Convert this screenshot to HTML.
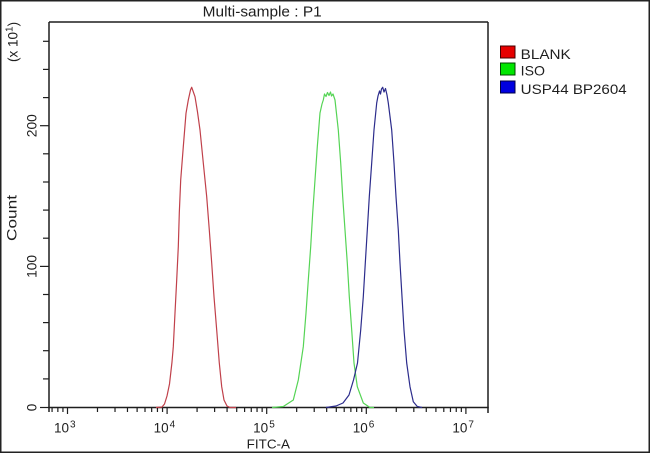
<!DOCTYPE html>
<html><head><meta charset="utf-8"><style>
html,body{margin:0;padding:0;background:#fff;}
svg{display:block;}
text{font-family:"Liberation Sans",Arial,sans-serif;fill:#1e1e1e;}
</style></head><body>
<svg width="650" height="453" viewBox="0 0 650 453" xmlns="http://www.w3.org/2000/svg">
<rect x="0" y="0" width="650" height="453" fill="#fff"/>
<rect x="0.75" y="0.75" width="648.5" height="451.5" fill="none" stroke="#222" stroke-width="1.5"/>
<!-- title -->
<text x="202.7" y="16.5" font-size="14.5" textLength="119" lengthAdjust="spacingAndGlyphs">Multi-sample : P1</text>
<!-- plot frame -->
<g stroke="#1e1e1e" stroke-width="1.5" fill="none">
<line x1="49" y1="22" x2="488" y2="22"/>
<line x1="49" y1="22" x2="49" y2="412"/>
<line x1="488" y1="22" x2="488" y2="413"/>
<line x1="48.25" y1="407.5" x2="488.75" y2="407.5"/>
</g>
<!-- y ticks -->
<g stroke="#1e1e1e" stroke-width="1.2">
<line x1="40" y1="407.5" x2="49" y2="407.5"/>
<line x1="43" y1="378.9" x2="49" y2="378.9"/>
<line x1="43" y1="350.7" x2="49" y2="350.7"/>
<line x1="43" y1="322.6" x2="49" y2="322.6"/>
<line x1="43" y1="294.5" x2="49" y2="294.5"/>
<line x1="40" y1="266.4" x2="49" y2="266.4"/>
<line x1="43" y1="238.2" x2="49" y2="238.2"/>
<line x1="43" y1="210.1" x2="49" y2="210.1"/>
<line x1="43" y1="182" x2="49" y2="182"/>
<line x1="43" y1="153.8" x2="49" y2="153.8"/>
<line x1="40" y1="125.7" x2="49" y2="125.7"/>
<line x1="43" y1="97.6" x2="49" y2="97.6"/>
<line x1="43" y1="69.4" x2="49" y2="69.4"/>
<line x1="43" y1="41.3" x2="49" y2="41.3"/>
</g>
<!-- y labels -->
<text transform="translate(36.5,407.5) rotate(-90)" font-size="13.5" text-anchor="middle">0</text>
<text transform="translate(36.5,266.4) rotate(-90)" font-size="13.5" text-anchor="middle" textLength="23" lengthAdjust="spacingAndGlyphs">100</text>
<text transform="translate(36.5,125.7) rotate(-90)" font-size="13.5" text-anchor="middle" textLength="23" lengthAdjust="spacingAndGlyphs">200</text>
<text transform="translate(16.7,218) rotate(-90)" font-size="14" text-anchor="middle" textLength="46" lengthAdjust="spacingAndGlyphs">Count</text>
<text transform="translate(17.5,62) rotate(-90)" font-size="13.5">(x 10<tspan font-size="10" dy="-5">1</tspan><tspan dy="5">)</tspan></text>
<!-- x ticks -->
<g stroke="#1e1e1e" stroke-width="1.2">
<line x1="67.5" y1="407" x2="67.5" y2="414"/>
<line x1="167.1" y1="407" x2="167.1" y2="414"/>
<line x1="266.7" y1="407" x2="266.7" y2="414"/>
<line x1="366.3" y1="407" x2="366.3" y2="414"/>
<line x1="465.9" y1="407" x2="465.9" y2="414"/>
<path d="M52.07 407V412M57.85 407V412M62.94 407V412
M97.48 407V412M115.02 407V412M127.47 407V412M137.12 407V412M145 407V412M151.67 407V412M157.45 407V412M162.54 407V412
M197.08 407V412M214.62 407V412M227.07 407V412M236.72 407V412M244.6 407V412M251.27 407V412M257.05 407V412M262.14 407V412
M296.68 407V412M314.22 407V412M326.67 407V412M336.32 407V412M344.2 407V412M350.87 407V412M356.65 407V412M361.74 407V412
M396.28 407V412M413.82 407V412M426.27 407V412M435.92 407V412M443.8 407V412M450.47 407V412M456.25 407V412M461.34 407V412" fill="none"/>
</g>
<!-- x labels -->
<g font-size="13.5">
<text x="69" y="432.5" text-anchor="end">10</text><text x="70" y="427.5" font-size="10">3</text>
<text x="168.6" y="432.5" text-anchor="end">10</text><text x="169.6" y="427.5" font-size="10">4</text>
<text x="268.2" y="432.5" text-anchor="end">10</text><text x="269.2" y="427.5" font-size="10">5</text>
<text x="367.8" y="432.5" text-anchor="end">10</text><text x="368.8" y="427.5" font-size="10">6</text>
<text x="467.4" y="432.5" text-anchor="end">10</text><text x="468.4" y="427.5" font-size="10">7</text>
</g>
<text x="246.7" y="448.3" font-size="13" textLength="43.3" lengthAdjust="spacingAndGlyphs">FITC-A</text>
<!-- curves -->
<g fill="none" stroke-width="1.2" stroke-linejoin="round">
<polyline stroke="#c0404a" points="156,407.5 162,407 164.5,404 167,396 169.5,384 172,362 173.3,346.7 175,313 176.7,280 178.3,246.7 179.3,213 180.7,180 183.3,146.7 186,113.3 188.3,100 190.5,90 191.7,87.3 193,91 195,96.7 197.5,112 200,130 203.3,163 206.7,196.7 209.3,230 211.7,263 214,296.7 216.7,330 219.3,363 221.7,386.7 224,400 227,406 230,407.5 236,407.5"/>
<polyline stroke="#55d455" points="272,407.5 283.3,406.5 293.3,400 298.3,380 303.3,346.7 306,313 308.3,280 310.7,246.7 312.7,213 315,180 317.3,146.7 320,113 322,104 323.3,100 324.5,94 326,96.5 327.5,92.5 329,95.5 330.5,92 331.5,96 333,94 335,100 338.3,130 340.7,163 342.7,196.7 345,230 347.3,263 349.3,296.7 351.7,330 354,363 357.3,386.7 363.3,403 370,407.5 374,407.5"/>
<polyline stroke="#2c2c8c" points="326,407.5 336,406 343,403 349,395 353.5,380 357.5,363 360.7,330 363.3,296.7 365.3,263 367.3,230 369.3,196.7 371.7,163 374,130 376.7,103 378,96 379.5,91 380.5,94 381.5,89 382.7,87.3 384,92 385.5,88.5 387,95 388.3,103 391.7,130 394,163 396,196.7 398.3,230 400,263 402,296.7 404,330 406.7,363 410,386.7 413.3,401.7 417.3,406.5 422,407.5"/>
</g>
<!-- legend -->
<rect x="500.5" y="46" width="14.5" height="12" fill="#e60000" stroke="#400" stroke-width="1"/>
<rect x="500.5" y="63" width="14.5" height="12" fill="#00e600" stroke="#040" stroke-width="1"/>
<rect x="500.5" y="81" width="14.5" height="12" fill="#0000e0" stroke="#004" stroke-width="1"/>
<text x="520.7" y="59" font-size="14" textLength="50" lengthAdjust="spacingAndGlyphs">BLANK</text>
<text x="520.7" y="75.5" font-size="14" textLength="24.3" lengthAdjust="spacingAndGlyphs">ISO</text>
<text x="520.7" y="94" font-size="14" textLength="106" lengthAdjust="spacingAndGlyphs">USP44 BP2604</text>
</svg>
</body></html>
